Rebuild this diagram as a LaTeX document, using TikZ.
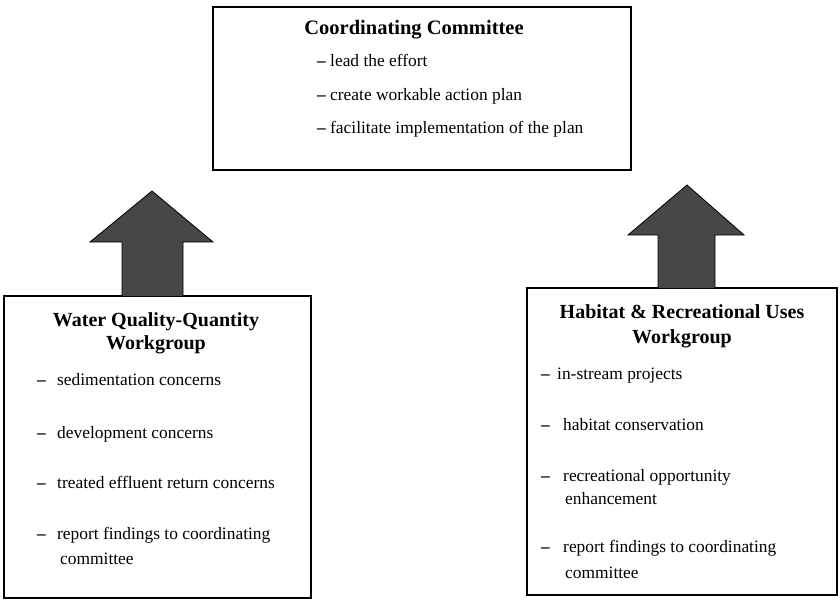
\documentclass[tikz,border=0pt]{standalone}
\usepackage{fontspec}
\setmainfont{Liberation Serif}
\begin{document}
\begin{tikzpicture}[x=1pt,y=-1pt,
  panel/.style={draw=black, line width=1.4pt, fill=white},
  blockarrow/.style={draw=black, line width=0.8pt, fill=black!72},
  heading/.style={font=\fontsize{20}{23}\selectfont\bfseries, align=center, inner sep=0pt, anchor=mid},
  item/.style={font=\fontsize{17.4}{24}\selectfont, align=left, anchor=mid west, inner sep=0pt}
]
\useasboundingbox (0,0) rectangle (840,602);

% boxes
\draw[panel] (213,7) rectangle (631,170);
\node[inner sep=0pt] (top) at (422,88.5) {};
\draw[panel] (4,296) rectangle (311,598);
\node[inner sep=0pt] (left) at (157.5,447) {};
\draw[panel] (527,288) rectangle (837,595);
\node[inner sep=0pt] (right) at (682,441.5) {};

% block arrows pointing up from the workgroups
\draw[blockarrow] (122,296) -- (122,242) -- (90,242) -- (152,191) -- (213,242) -- (183,242) -- (183,296);
\draw[blockarrow] (658,288) -- (658,235) -- (628,235) -- (687,185) -- (744,235) -- (715,235) -- (715,288);

% coordinating committee
\node[heading, font=\fontsize{20.5}{23}\selectfont\bfseries] (ttop) at (414,32) {Coordinating Committee};
\node[item] (t1) at (317,64) {\makebox[13pt][l]{\textbf{–}}lead the effort};
\node[item] (t2) at (317,98) {\makebox[13pt][l]{\textbf{–}}create workable action plan};
\node[item] (t3) at (317,131) {\makebox[13pt][l]{\textbf{–}}facilitate implementation of the plan};

% water quality-quantity workgroup
\node[heading] (tleft) at (156,347) {Water Quality-Quantity\\Workgroup};
\node[item] (l1) at (37,383) {\makebox[20pt][l]{\textbf{–}}sedimentation concerns};
\node[item] (l2) at (37,436) {\makebox[20pt][l]{\textbf{–}}development concerns};
\node[item] (l3) at (37,486) {\makebox[20pt][l]{\textbf{–}}treated effluent return concerns};
\node[item, font=\fontsize{17.4}{25}\selectfont] (l4) at (37,562) {\makebox[20pt][l]{\textbf{–}}report findings to coordinating\\\hspace*{23pt}committee};

% habitat & recreational uses workgroup
\node[heading, font=\fontsize{20}{25}\selectfont\bfseries] (tright) at (682,341) {Habitat \& Recreational Uses\\Workgroup};
\node[item] (r1) at (541,377) {\makebox[16pt][l]{\textbf{–}}in-stream projects};
\node[item] (r2) at (541,428) {\makebox[22pt][l]{\textbf{–}}habitat conservation};
\node[item, font=\fontsize{17.4}{23}\selectfont] (r3) at (541,502) {\makebox[22pt][l]{\textbf{–}}recreational opportunity\\\hspace*{24pt}enhancement};
\node[item, font=\fontsize{17.4}{26}\selectfont] (r4) at (541,576) {\makebox[22pt][l]{\textbf{–}}report findings to coordinating\\\hspace*{24pt}committee};
\end{tikzpicture}
\end{document}
